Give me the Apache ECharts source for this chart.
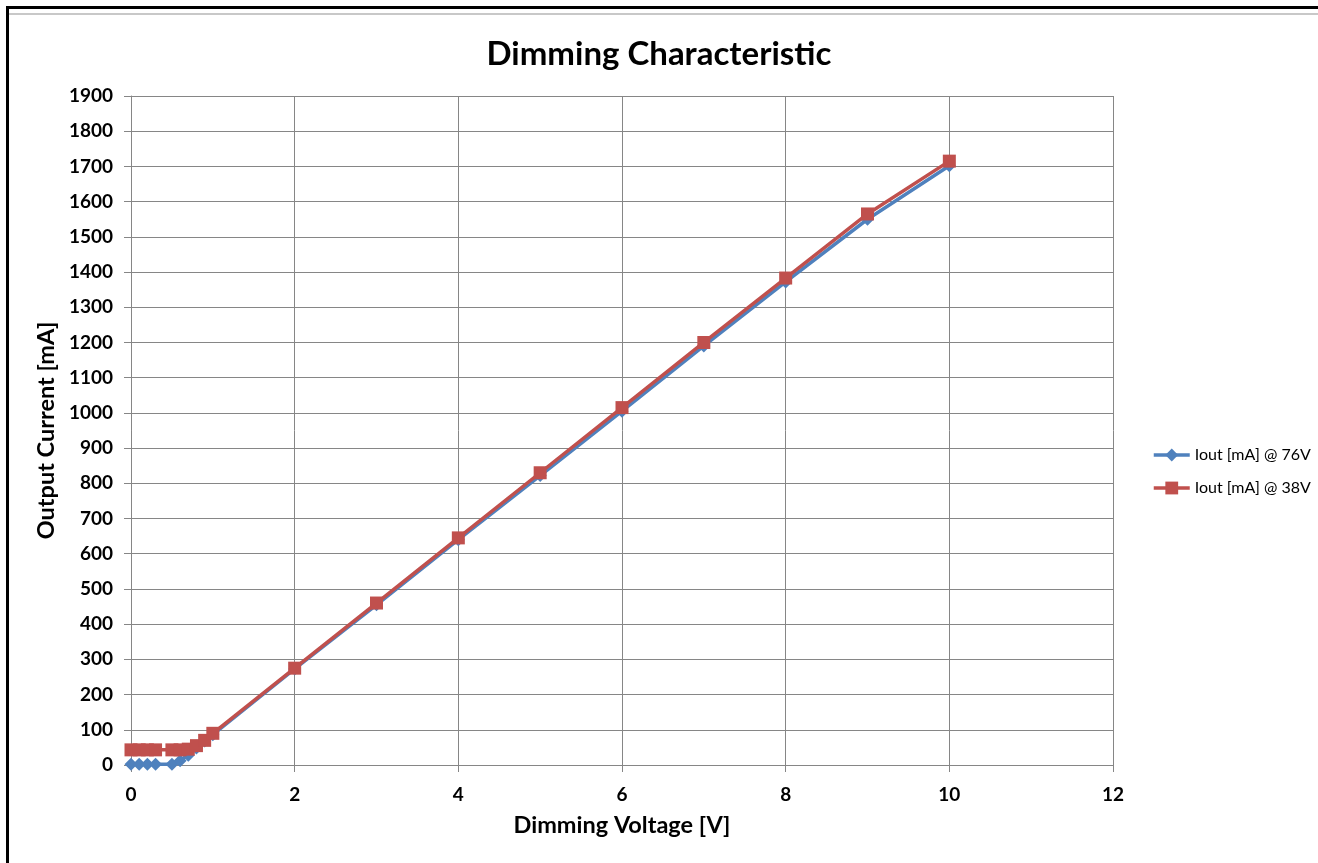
<!DOCTYPE html>
<html>
<head>
<meta charset="utf-8">
<script src="https://cdn.jsdelivr.net/npm/echarts@6/dist/echarts.min.js"></script>
<style>
html,body{margin:0;padding:0;background:#fff;}
#wrap{position:relative;width:1318px;height:863px;overflow:hidden;}
#chart{position:absolute;left:0;top:0;width:1318px;height:863px;}
.b{position:absolute;}
</style>
</head>
<body>
<div id="wrap">
<div id="chart"></div>
<div class="b" style="left:6px;top:6px;width:1312px;height:3px;background:#000;"></div>
<div class="b" style="left:6px;top:6px;width:3px;height:857px;background:#000;"></div>
<div class="b" style="left:9px;top:13px;width:1309px;height:2px;background:#c8c8c8;"></div>
</div>
<script>
const title = 'Dimming Characteristic';
const xName = 'Dimming Voltage [V]';
const yName = 'Output Current [mA]';
const seriesNames = ['Iout [mA] @ 76V', 'Iout [mA] @ 38V'];
const voltage = [0, 0.1, 0.2, 0.3, 0.5, 0.6, 0.7, 0.8, 0.9, 1, 2, 3, 4, 5, 6, 7, 8, 9, 10];
const iout76 = [2, 2, 2, 2, 2, 12, 28, 48, 68, 86, 273, 455, 640, 822, 1005, 1190, 1372, 1550, 1702];
const iout38 = [43, 43, 43, 43, 43, 43, 45, 55, 70, 90, 275, 460, 645, 830, 1015, 1200, 1383, 1565, 1715];

const font = 'Lato, "Liberation Sans", sans-serif';
const chart = echarts.init(document.getElementById('chart'));
chart.setOption({
  animation: false,
  backgroundColor: 'transparent',
  title: {
    text: title, left: 'center', top: 33,
    textStyle: {fontFamily: font, fontSize: 33, fontWeight: 'bold', color: '#000'}
  },
  legend: {
    orient: 'vertical', left: 1147, top: 442, itemGap: 17,
    itemWidth: 36, itemHeight: 16,
    lineStyle: {width: 3.5},
    textStyle: {fontFamily: font, fontSize: 16, color: '#000'},
    data: seriesNames
  },
  grid: {left: 131, right: 205, top: 96, bottom: 98},
  xAxis: {
    type: 'value', min: 0, max: 12, interval: 2,
    name: xName, nameLocation: 'middle', nameGap: 48,
    nameTextStyle: {fontFamily: font, fontSize: 23.5, fontWeight: 'bold', color: '#000'},
    axisLine: {show: true, lineStyle: {color: '#868686', width: 1}},
    axisTick: {show: true, length: 7, lineStyle: {color: '#868686'}},
    axisLabel: {fontFamily: font, fontSize: 19, fontWeight: 'bold', color: '#000', margin: 20},
    splitLine: {show: true, lineStyle: {color: '#868686', width: 1}}
  },
  yAxis: {
    type: 'value', min: 0, max: 1900, interval: 100,
    name: yName, nameLocation: 'middle', nameGap: 68, nameRotate: 90,
    nameTextStyle: {fontFamily: font, fontSize: 23.5, fontWeight: 'bold', color: '#000'},
    axisLine: {show: true, lineStyle: {color: '#868686', width: 1}},
    axisTick: {show: true, length: 7, lineStyle: {color: '#868686'}},
    axisLabel: {fontFamily: font, fontSize: 19, fontWeight: 'bold', color: '#000', margin: 18,
      formatter: v => String(v)},
    splitLine: {show: true, lineStyle: {color: '#868686', width: 1}}
  },
  series: [
    {
      name: seriesNames[0], type: 'line',
      data: voltage.map((v, i) => [v, iout76[i]]),
      symbol: 'diamond', symbolSize: 13,
      lineStyle: {color: '#4F81BD', width: 3.5},
      itemStyle: {color: '#4F81BD'},
      z: 2
    },
    {
      name: seriesNames[1], type: 'line',
      data: voltage.map((v, i) => [v, iout38[i]]),
      symbol: 'rect', symbolSize: 13,
      lineStyle: {color: '#C0504D', width: 3.5},
      itemStyle: {color: '#C0504D'},
      z: 3
    }
  ]
});
</script>
</body>
</html>
